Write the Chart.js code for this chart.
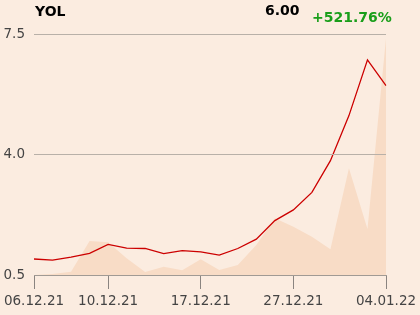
<!DOCTYPE html>
<html>
<head>
<meta charset="utf-8">
<script src="https://cdn.jsdelivr.net/npm/chart.js@4/dist/chart.umd.min.js"></script>
<style>
    html, body { margin: 0; padding: 0; background: #fbece0; }
    #wrap { position: relative; width: 420px; height: 315px; font-family: "DejaVu Sans", sans-serif; }
    #chart { position: absolute; left: 0; top: 0; }
    .hdr { position: absolute; font-weight: bold; font-size: 14px; line-height: 1; }
</style>
</head>
<body>
<div id="wrap">
    <canvas id="chart" width="420" height="315"></canvas>
    <div class="hdr" style="left:35px; top:4px; color:#000;">YOL</div>
    <div class="hdr" style="left:265px; top:3px; color:#000;">6.00</div>
    <div class="hdr" style="left:312px; top:10px; color:#1a9e1a;">+521.76%</div>
</div>
<script>
const dates = ['06.12.21', '07.12.21', '08.12.21', '09.12.21', '10.12.21',
    '13.12.21', '14.12.21', '15.12.21', '16.12.21', '17.12.21',
    '20.12.21', '21.12.21', '22.12.21', '23.12.21', '27.12.21',
    '28.12.21', '29.12.21', '30.12.21', '31.12.21', '04.01.22'];
const shownLabels = ['06.12.21', '10.12.21', '17.12.21', '27.12.21', '04.01.22'];
const prices = [0.965, 0.93, 1.02, 1.13, 1.39, 1.28, 1.27, 1.12, 1.21, 1.17,
    1.08, 1.27, 1.54, 2.08, 2.39, 2.90, 3.82, 5.13, 6.75, 6.00];
const volumes = [0, 0.4, 1.4, 14.1, 13.6, 6.9, 1.2, 3.4, 2.0, 6.5,
    2.1, 4.1, 12.4, 23.5, 20.0, 15.9, 10.7, 44.3, 19.1, 98.2];
const priceTicks = [0.5, 4.0, 7.5];

const isShown = i => shownLabels.includes(dates[i]);

new Chart(document.getElementById('chart').getContext('2d'), {
    type: 'line',
    data: {
        labels: dates,
        datasets: [
            {
                label: 'Price',
                data: prices,
                yAxisID: 'y',
                borderColor: '#cc0000',
                borderWidth: 1.3,
                pointRadius: 0,
                tension: 0,
                fill: false,
                order: 0
            },
            {
                label: 'Volume',
                data: volumes,
                yAxisID: 'vol',
                borderWidth: 0,
                backgroundColor: '#f8dcc6',
                pointRadius: 0,
                tension: 0,
                fill: 'origin',
                order: 1
            }
        ]
    },
    options: {
        responsive: false,
        animation: false,
        events: [],
        layout: { padding: { top: 34, right: 34, left: 0, bottom: 0 } },
        plugins: {
            legend: { display: false },
            tooltip: { enabled: false }
        },
        scales: {
            x: {
                offset: false,
                border: { display: true, color: '#a09a94', width: 1 },
                grid: {
                    drawOnChartArea: false,
                    drawTicks: true,
                    tickLength: 14,
                    color: ctx => isShown(ctx.index) ? '#8a8480' : 'transparent'
                },
                ticks: {
                    autoSkip: false,
                    maxRotation: 0,
                    padding: 4,
                    color: '#444',
                    font: { family: 'DejaVu Sans', size: 13.5 },
                    callback: (v, i) => isShown(i) ? dates[i] : ''
                },
                afterFit: s => {
                    s.height = 40;
                    s.paddingLeft = 0;
                    s.paddingRight = 0;
                }
            },
            y: {
                min: 0.5,
                max: 7.5,
                border: { display: false },
                grid: {
                    z: 1,
                    drawTicks: false,
                    color: ctx => ctx.tick.value === 0.5 ? 'transparent' : '#b8b0a8'
                },
                afterBuildTicks: s => { s.ticks = priceTicks.map(v => ({ value: v })); },
                ticks: {
                    padding: 9,
                    color: '#444',
                    font: { family: 'DejaVu Sans', size: 13.5 },
                    callback: v => v.toFixed(1)
                },
                afterFit: s => {
                    s.width = 34;
                    s.paddingTop = 0;
                    s.paddingBottom = 0;
                }
            },
            vol: {
                display: false,
                min: 0,
                max: 100
            }
        }
    }
});
</script>
</body>
</html>
